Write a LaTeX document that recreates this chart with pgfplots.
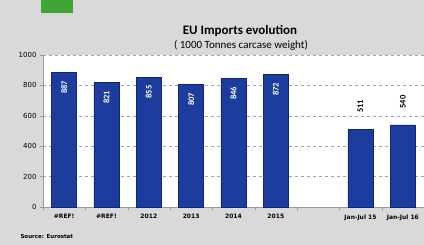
\documentclass[border=0pt]{standalone}
\usepackage{pgfplots}
\pgfplotsset{compat=1.18}
\usepackage{fontspec}
\setmainfont{DejaVu Sans}
\newfontfamily\carl{Carlito}
\definecolor{bg}{HTML}{D9D9D9}
\definecolor{eublue}{HTML}{1C3C9E}
\definecolor{eudark}{HTML}{0E2680}
\definecolor{eugreen}{HTML}{3FA535}
\begin{document}
\begin{tikzpicture}[x=1pt,y=1pt]
\useasboundingbox (0,0) rectangle (424,245);
\fill[bg] (0,0) rectangle (424,245);
\fill[eugreen] (41,232) rectangle (73,245);
\node[font=\carl\bfseries\fontsize{13}{14}\selectfont] at (240,214) {EU Imports evolution};
\node[font=\carl\fontsize{11}{12}\selectfont] at (241,200) {( 1000 Tonnes carcase weight)};
\node[anchor=west,font=\bfseries\fontsize{5.5}{6}\selectfont] at (17,8.5) {Source: Eurostat};
\begin{axis}[
  at={(43pt,38pt)}, anchor=south west,
  scale only axis, width=381pt, height=152pt,
  ybar, bar width=25pt, bar shift=0pt,
  xmin=-0.5, xmax=8.5, ymin=0, ymax=1000,
  axis x line*=bottom, axis y line*=left,
  axis line style={gray!80},
  axis background/.style={fill=white},
  xtick={0,...,8},
  xticklabels={\#REF!,\#REF!,2012,2013,2014,2015,,Jan-Jul 15,Jan-Jul 16},
  x tick label style={font=\bfseries\fontsize{6}{7}\selectfont, yshift=-1pt},
  major x tick style={draw=none},
  minor xtick={-0.5,0.5,...,8.5},
  minor x tick style={gray!80},
  xtick pos=bottom, ytick pos=left,
  ytick={0,200,...,1000},
  y tick label style={font=\fontsize{7}{8}\selectfont},
  /pgf/number format/assume math mode=true,
  /pgf/number format/1000 sep={},
  tick align=outside, tick style={gray!80}, major tick length=3pt, minor tick length=3pt,
  ymajorgrids, grid style={dashed, gray!70},
  clip=false,
]
\addplot[fill=eublue, draw=eudark,
  nodes near coords, nodes near coords align=center,
  every node near coord/.append style={rotate=90, anchor=east, font=\carl\bfseries\fontsize{8.5}{9}\selectfont, text=white, xshift=-5pt}]
  coordinates {(0,887) (1,821) (2,855) (3,807) (4,846) (5,872)};
\addplot[fill=eublue, draw=eudark,
  nodes near coords,
  every node near coord/.append style={rotate=90, anchor=west, font=\carl\bfseries\fontsize{8.5}{9}\selectfont, text=black, xshift=13pt}]
  coordinates {(7,511) (8,540)};
\end{axis}
\end{tikzpicture}
\end{document}
